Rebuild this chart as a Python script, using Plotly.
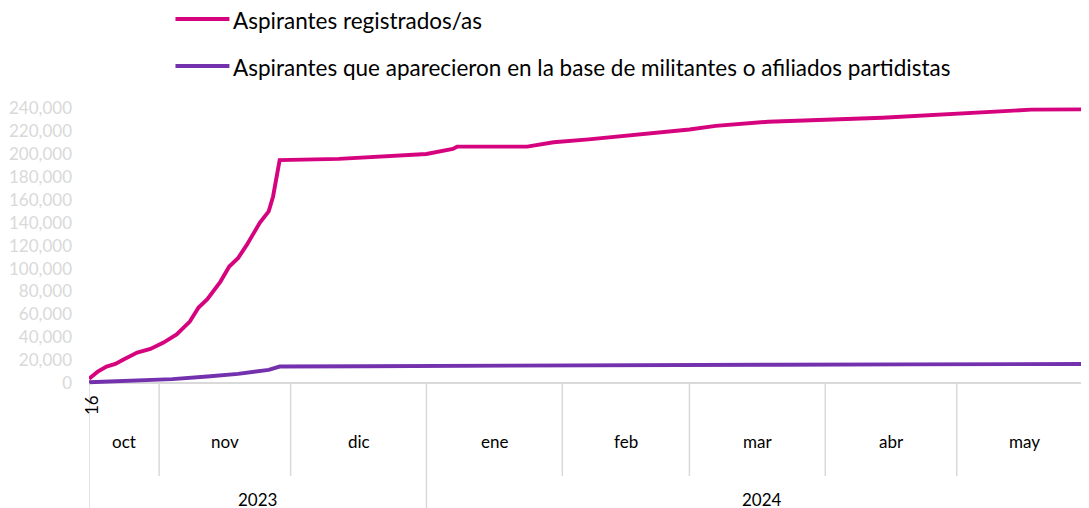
import plotly.graph_objects as go
from datetime import datetime

# ---------------- data ----------------
series_names = [
    "Aspirantes registrados/as",
    "Aspirantes que aparecieron en la base de militantes o afiliados partidistas",
]

reg_dates = [
    "2023-10-16", "2023-10-18", "2023-10-20", "2023-10-22", "2023-10-24",
    "2023-10-27", "2023-10-30", "2023-11-02", "2023-11-05", "2023-11-08",
    "2023-11-10", "2023-11-12", "2023-11-15", "2023-11-17", "2023-11-19",
    "2023-11-21", "2023-11-24", "2023-11-26", "2023-11-27", "2023-11-28 12:00",
    "2023-12-12", "2023-12-18", "2023-12-23", "2023-12-28", "2024-01-01",
    "2024-01-07", "2024-01-08", "2024-01-24", "2024-01-30", "2024-02-07",
    "2024-02-18", "2024-02-23", "2024-03-01", "2024-03-07", "2024-03-19",
    "2024-04-14", "2024-05-02", "2024-05-18", "2024-06-01",
]
reg_values = [
    3800, 10000, 14500, 16800, 20900,
    26700, 29900, 35400, 42500, 53800,
    66000, 73300, 88700, 101800, 109100,
    120700, 140200, 150000, 163000, 194800,
    195800, 196900, 198100, 199200, 200100,
    204500, 206500, 206500, 210300, 212900,
    216700, 219000, 221500, 224600, 228300,
    231800, 235600, 238800, 239100,
]

mil_dates = [
    "2023-10-16", "2023-10-30", "2023-11-04", "2023-11-12", "2023-11-19",
    "2023-11-26", "2023-11-28 12:00", "2023-12-18", "2024-01-02", "2024-01-30",
    "2024-02-12", "2024-02-23", "2024-03-21", "2024-04-19", "2024-05-11",
    "2024-06-01",
]
mil_values = [
    800, 2500, 3500, 5800, 8100,
    11600, 14500, 14800, 15100, 15400,
    15600, 15800, 16100, 16400, 16700,
    16800,
]

month_labels = ["oct", "nov", "dic", "ene", "feb", "mar", "abr", "may", "jun"]
month_starts = ["2023-10-16", "2023-11-01", "2023-12-01", "2024-01-01", "2024-02-01",
                "2024-03-01", "2024-04-01", "2024-05-01", "2024-06-01"]
year_labels = ["2023", "2024"]
year_starts = ["2023-10-16", "2024-01-01"]
axis_end = "2024-06-02"

y_ticks = list(range(0, 240001, 20000))

# ---------------- style / layout ----------------
PINK = "#D6037F"
PURPLE = "#7431AE"
GRID = "#D9D9D9"
FONT = "Lato"

OFF = 8  # page body margin: figure coords = picture coords - OFF
W, H = 1089, 508
L, R, T, B = 80.5, 0, 98, 130
plot_w = W - L - R
plot_h = H - T - B
x_view = ["2023-10-16", axis_end]
y_view = [-2500, 242000]


def _dt(s):
    return datetime.fromisoformat(s)


def xfrac(s):
    a, b = _dt(x_view[0]), _dt(x_view[1])
    return (_dt(s) - a).total_seconds() / (b - a).total_seconds()


def px(p):
    return (p - OFF - L) / plot_w


def py(p):
    return (H - B - (p - OFF)) / plot_h


axis_px = (H - B) - (0 - y_view[0]) * plot_h / (y_view[1] - y_view[0]) + OFF

fig = go.Figure()
fig.add_trace(go.Scatter(x=reg_dates, y=reg_values, mode="lines", name=series_names[0],
                         line=dict(color=PINK, width=3.9), showlegend=False))
fig.add_trace(go.Scatter(x=mil_dates, y=mil_values, mode="lines", name=series_names[1],
                         line=dict(color=PURPLE, width=3.9), showlegend=False))

shapes = []
annotations = []

# month separators & labels
bounds = month_starts + [axis_end]
for i, lab in enumerate(month_labels):
    s, e = bounds[i], bounds[i + 1]
    if s not in year_starts:
        shapes.append(dict(type="line", xref="x", yref="paper", x0=s, x1=s,
                           y0=py(axis_px), y1=py(476), line=dict(color=GRID, width=1.5)))
    mid = _dt(s) + (_dt(e) - _dt(s)) / 2
    annotations.append(dict(xref="paper", yref="paper", x=xfrac(mid.isoformat()), y=py(441),
                            text=lab, showarrow=False, xanchor="center", yanchor="middle",
                            xshift=1 if lab == "jun" else 0,
                            font=dict(family=FONT, size=17, color="#000000")))

# year separators & labels
ybounds = year_starts + [axis_end]
for i, lab in enumerate(year_labels):
    s, e = ybounds[i], ybounds[i + 1]
    shapes.append(dict(type="line", xref="x", yref="paper", x0=s, x1=s,
                       y0=py(axis_px), y1=py(530), line=dict(color=GRID, width=1.5)))
    mid = _dt(s) + (_dt(e) - _dt(s)) / 2
    annotations.append(dict(xref="paper", yref="paper", x=xfrac(mid.isoformat()), y=py(500),
                            text=lab, showarrow=False, xanchor="center", yanchor="middle",
                            font=dict(family=FONT, size=17, color="#000000")))

# first day label (rotated)
annotations.append(dict(xref="x", yref="paper", x=month_starts[0], y=py(405), text="16",
                        textangle=-90, showarrow=False, xanchor="center", yanchor="middle",
                        xshift=2, font=dict(family=FONT, size=17, color="#000000")))

# custom legend
for i, (nm, col, yy) in enumerate([(series_names[0], PINK, 19), (series_names[1], PURPLE, 66)]):
    shapes.append(dict(type="line", xref="paper", yref="paper", x0=px(175), x1=px(229),
                       y0=py(yy), y1=py(yy), line=dict(color=col, width=4)))
    annotations.append(dict(xref="paper", yref="paper", x=px(231), y=py(yy + 1), text=nm,
                            showarrow=False, xanchor="left", yanchor="middle",
                            font=dict(family=FONT, size=22.5, color="#000000")))

fig.update_layout(
    width=W, height=H,
    margin=dict(l=L, r=R, t=T, b=B, pad=0),
    paper_bgcolor="white", plot_bgcolor="white",
    showlegend=False,
    shapes=shapes, annotations=annotations,
    xaxis=dict(type="date", range=x_view, showgrid=False, zeroline=False, showline=False,
               showticklabels=False, ticks=""),
    yaxis=dict(range=y_view, tickvals=y_ticks, tickformat=",", showgrid=False,
               zeroline=True, zerolinecolor=GRID, zerolinewidth=1.5, showline=False,
               ticks="", ticklabelstandoff=16,
               tickfont=dict(family=FONT, size=17, color=GRID)),
)

fig.write_html("out.html")
